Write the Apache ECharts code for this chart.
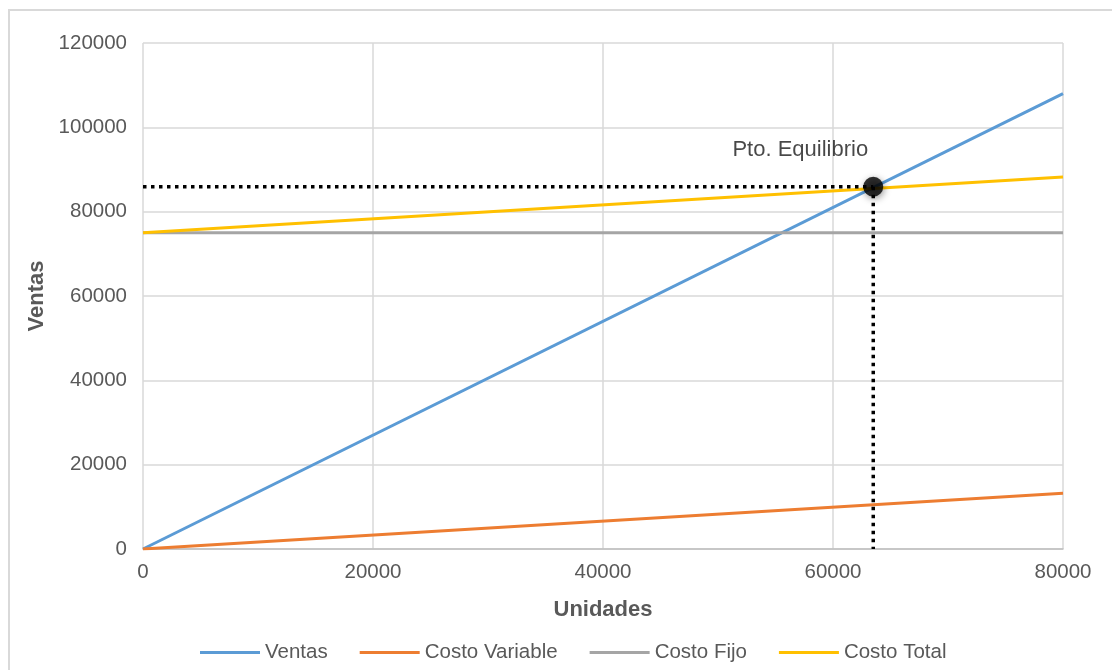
<!DOCTYPE html>
<html>
<head>
<meta charset="utf-8">
<script src="https://cdn.jsdelivr.net/npm/echarts@6/dist/echarts.min.js"></script>
<style>
  html, body { margin: 0; padding: 0; background: #fff; }
  #frame { position: absolute; left: 8px; top: 9px; width: 1200px; height: 800px;
           border-left: 2px solid #d9d9d9; border-top: 2px solid #d9d9d9; box-sizing: border-box; }
  #chart { position: absolute; left: 0; top: 0; width: 1112px; height: 670px; }
</style>
</head>
<body>
<div id="frame"></div>
<div id="chart"></div>
<script>
// Units sold at the two ends of each line
const unidades = [0, 80000];
// Revenue and cost lines
const ventas = [0, 108000];
const costoVariable = [0, 13200];
const costoFijo = [75000, 75000];
const costoTotal = [75000, 88200];
// Break-even point (units, sales)
const equilibrio = [63500, 85900];
const equilibrioLabel = 'Pto. Equilibrio';
const seriesNames = ['Ventas', 'Costo Variable', 'Costo Fijo', 'Costo Total'];
const xTicks = [0, 20000, 40000, 60000, 80000];

const FONT = '"Liberation Sans", Arial, sans-serif';
const pairs = ys => unidades.map((x, i) => [x, ys[i]]);
const plain = v => String(v);

const lineSeries = (name, ys, color) => ({
  name, type: 'line', data: pairs(ys), showSymbol: false, symbol: 'none',
  lineStyle: { color, width: 3 }, itemStyle: { color }, z: 3, silent: true
});

const dotted = { color: '#000', width: 3.5, type: [3.5, 4.5], cap: 'butt' };

const chart = echarts.init(document.getElementById('chart'), null, { renderer: 'canvas' });
chart.setOption({
  animation: false,
  backgroundColor: 'transparent',
  grid: { left: 143, right: 49, top: 43, bottom: 121 },
  xAxis: {
    type: 'value', min: xTicks[0], max: xTicks[xTicks.length - 1], interval: 20000,
    name: 'Unidades', nameLocation: 'middle', nameGap: 50,
    nameTextStyle: { fontFamily: FONT, fontSize: 22, fontWeight: 'bold', color: '#595959' },
    axisLine: { show: true, lineStyle: { color: '#bfbfbf', width: 1.5 } },
    axisTick: { show: false },
    axisLabel: { fontFamily: FONT, fontSize: 20.5, color: '#595959', margin: 13, formatter: plain },
    splitLine: { show: true, lineStyle: { color: '#d9d9d9', width: 1.5 } }
  },
  yAxis: {
    type: 'value', min: 0, max: 120000, interval: 20000,
    name: 'Ventas', nameLocation: 'middle', nameGap: 92, nameRotate: 90,
    nameTextStyle: { fontFamily: FONT, fontSize: 22, fontWeight: 'bold', color: '#595959' },
    axisLine: { show: false },
    axisTick: { show: false },
    axisLabel: { fontFamily: FONT, fontSize: 20.5, color: '#595959', margin: 16, formatter: plain },
    splitLine: { show: true, lineStyle: { color: '#d9d9d9', width: 1.5 } }
  },
  legend: {
    data: seriesNames, left: 195, top: 637, itemWidth: 60, itemHeight: 3, itemGap: 32,
    icon: 'rect',
    textStyle: { fontFamily: FONT, fontSize: 20.5, color: '#595959', padding: [0, 0, 0, 0] }
  },
  series: [
    lineSeries(seriesNames[0], ventas, '#5b9bd5'),
    lineSeries(seriesNames[1], costoVariable, '#ed7d31'),
    lineSeries(seriesNames[2], costoFijo, '#a5a5a5'),
    lineSeries(seriesNames[3], costoTotal, '#ffc000'),
    {
      name: 'guia-h', type: 'line', showSymbol: false, symbol: 'none', silent: true, z: 4,
      data: [[0, equilibrio[1]], [equilibrio[0], equilibrio[1]]],
      lineStyle: dotted
    },
    {
      name: 'guia-v', type: 'line', showSymbol: false, symbol: 'none', silent: true, z: 4,
      data: [[equilibrio[0], equilibrio[1]], [equilibrio[0], 0]],
      lineStyle: dotted
    },
    {
      name: 'equilibrio', type: 'scatter', z: 5, silent: true,
      data: [equilibrio], symbol: 'circle', symbolSize: 20,
      itemStyle: { color: '#000', shadowColor: 'rgba(0,0,0,0.5)', shadowBlur: 7, shadowOffsetX: 1, shadowOffsetY: 2 },
      label: {
        show: true, position: 'top', distance: 6, offset: [-73, -10],
        formatter: equilibrioLabel,
        fontFamily: FONT, fontSize: 22, color: '#1a1a1a'
      }
    }
  ]
});
</script>
</body>
</html>
